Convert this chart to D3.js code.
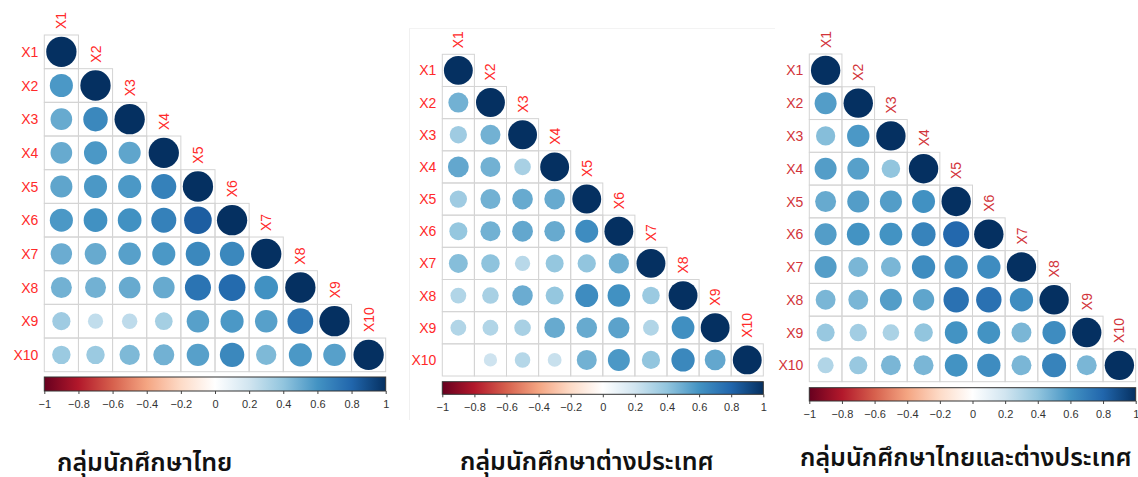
<!DOCTYPE html>
<html>
<head>
<meta charset="utf-8">
<script src="https://cdn.jsdelivr.net/npm/d3@7"></script>
<style>
  body { margin: 0; background: #fff; }
  svg { display: block; }
</style>
</head>
<body>
<script>
// variable names, rows and columns of every matrix
const labels = ["X1", "X2", "X3", "X4", "X5", "X6", "X7", "X8", "X9", "X10"];

// lower triangle of each correlation matrix
const thaiCorr = [
  [1],
  [0.58, 1],
  [0.51, 0.65, 1],
  [0.51, 0.58, 0.53, 1],
  [0.53, 0.58, 0.58, 0.68, 1],
  [0.58, 0.61, 0.61, 0.68, 0.83, 1],
  [0.50, 0.51, 0.55, 0.58, 0.65, 0.65, 1],
  [0.48, 0.48, 0.51, 0.51, 0.74, 0.78, 0.61, 1],
  [0.36, 0.25, 0.26, 0.34, 0.55, 0.58, 0.55, 0.72, 1],
  [0.37, 0.37, 0.45, 0.48, 0.55, 0.65, 0.45, 0.58, 0.55, 1]
];
const foreignCorr = [
  [1],
  [0.48, 1],
  [0.36, 0.48, 1],
  [0.52, 0.48, 0.33, 1],
  [0.36, 0.48, 0.51, 0.51, 1],
  [0.39, 0.48, 0.52, 0.51, 0.63, 1],
  [0.43, 0.41, 0.28, 0.39, 0.40, 0.49, 1],
  [0.30, 0.33, 0.50, 0.39, 0.63, 0.61, 0.37, 1],
  [0.30, 0.30, 0.33, 0.51, 0.51, 0.54, 0.30, 0.62, 1],
  [0.00, 0.21, 0.29, 0.23, 0.48, 0.58, 0.40, 0.65, 0.52, 1]
];
const allCorr = [
  [1],
  [0.56, 1],
  [0.43, 0.58, 1],
  [0.56, 0.55, 0.40, 1],
  [0.51, 0.56, 0.56, 0.61, 1],
  [0.56, 0.60, 0.60, 0.67, 0.79, 1],
  [0.56, 0.46, 0.46, 0.63, 0.63, 0.63, 1],
  [0.46, 0.46, 0.56, 0.53, 0.75, 0.75, 0.63, 1],
  [0.38, 0.35, 0.32, 0.40, 0.60, 0.60, 0.46, 0.63, 1],
  [0.30, 0.38, 0.46, 0.46, 0.60, 0.63, 0.46, 0.67, 0.46, 1]
];

const titles = ["กลุ่มนักศึกษาไทย", "กลุ่มนักศึกษาต่างประเทศ", "กลุ่มนักศึกษาไทยและต่างประเทศ"];
const legendTicks = [-1, -0.8, -0.6, -0.4, -0.2, 0, 0.2, 0.4, 0.6, 0.8, 1];

// corrplot's default palette
const paletteStops = ["#67001F", "#B2182B", "#D6604D", "#F4A582", "#FDDBC7", "#FFFFFF",
                      "#D1E5F0", "#92C5DE", "#4393C3", "#2166AC", "#053061"];

const width = 1138;
const height = 477;

const svg = d3.select('body')
  .append('svg')
  .attr('width', width)
  .attr('height', height);

const color = d3.scaleLinear()
  .domain(d3.range(paletteStops.length).map(i => -1 + i * 2 / (paletteStops.length - 1)))
  .range(paletteStops);

// gradient for the colour bars
const grad = svg.append('defs').append('linearGradient').attr('id', 'cbar');
d3.range(0, 1.0001, 0.05).forEach(t => {
  grad.append('stop').attr('offset', t).attr('stop-color', color(-1 + 2 * t));
});

// faint frame behind the middle panel
svg.append('line')
  .attr('x1', 409.5).attr('x2', 409.5).attr('y1', 28).attr('y2', 420)
  .attr('stroke', '#f0f0f0');
svg.append('line')
  .attr('x1', 409).attr('x2', 775).attr('y1', 28.5).attr('y2', 28.5)
  .attr('stroke', '#f3f3f3');

const panels = [
  { data: thaiCorr, x: 44.3, y: 35, w: 341.4, h: 336.7, barY: 377, barH: 14, title: titles[0], titleX: 57, titleY: 471, labelColor: '#ff2a2a' },
  { data: foreignCorr, x: 442.3, y: 54.3, w: 321, h: 321.7, barY: 381.7, barH: 12.6, title: titles[1], titleX: 460, titleY: 470, labelColor: '#ff2a2a' },
  { data: allCorr, x: 809.3, y: 54, w: 326.4, h: 327.7, barY: 387.7, barH: 13.3, title: titles[2], titleX: 800, titleY: 466, labelColor: '#d2343a' }
];

panels.forEach(drawPanel);

function drawPanel(p) {
  const g = svg.append('g');

  const x = d3.scaleBand().domain(labels).range([p.x, p.x + p.w]);
  const y = d3.scaleBand().domain(labels).range([p.y, p.y + p.h]);
  const cell = Math.min(x.bandwidth(), y.bandwidth());
  const radius = d3.scaleSqrt().domain([0, 1]).range([0, 0.45 * cell]);

  const cells = [];
  p.data.forEach((row, i) => {
    row.forEach((v, j) => cells.push({ row: labels[i], col: labels[j], v: v }));
  });

  g.selectAll('rect.cell')
    .data(cells)
    .enter()
    .append('rect')
    .attr('class', 'cell')
    .attr('x', d => x(d.col))
    .attr('y', d => y(d.row))
    .attr('width', x.bandwidth())
    .attr('height', y.bandwidth())
    .attr('fill', 'none')
    .attr('stroke', '#d4d4d4')
    .attr('stroke-width', 1);

  g.selectAll('circle')
    .data(cells)
    .enter()
    .append('circle')
    .attr('cx', d => x(d.col) + x.bandwidth() / 2)
    .attr('cy', d => y(d.row) + y.bandwidth() / 2)
    .attr('r', d => radius(Math.abs(d.v)))
    .attr('fill', d => color(d.v));

  // row labels
  g.selectAll('text.row')
    .data(labels)
    .enter()
    .append('text')
    .attr('class', 'row')
    .attr('x', p.x - 6)
    .attr('y', d => y(d) + y.bandwidth() / 2)
    .attr('dy', '0.36em')
    .attr('text-anchor', 'end')
    .attr('fill', p.labelColor)
    .style('font', '14px "Liberation Sans", Arial, sans-serif')
    .text(d => d);

  // column labels, sitting on top of the diagonal cell
  g.selectAll('text.col')
    .data(labels)
    .enter()
    .append('text')
    .attr('class', 'col')
    .attr('transform', d => `translate(${x(d) + x.bandwidth() / 2},${y(d) - 6}) rotate(-90)`)
    .attr('dy', '0.36em')
    .attr('text-anchor', 'start')
    .attr('fill', p.labelColor)
    .style('font', '14px "Liberation Sans", Arial, sans-serif')
    .text(d => d);

  // colour bar
  const bar = d3.scaleLinear().domain([-1, 1]).range([p.x, p.x + p.w]);
  g.append('rect')
    .attr('x', p.x)
    .attr('y', p.barY)
    .attr('width', p.w)
    .attr('height', p.barH)
    .attr('fill', 'url(#cbar)')
    .attr('stroke', '#333')
    .attr('stroke-width', 1);

  const axis = g.append('g')
    .attr('transform', `translate(0,${p.barY + p.barH})`)
    .call(d3.axisBottom(bar).tickValues(legendTicks).tickSize(3).tickFormat(d3.format('')));
  axis.select('.domain').remove();
  axis.selectAll('line').attr('stroke', '#444');
  axis.selectAll('text')
    .attr('fill', '#333')
    .attr('y', 9)
    .style('font', '11px "Liberation Sans", Arial, sans-serif');

  g.append('text')
    .attr('x', p.titleX)
    .attr('y', p.titleY)
    .attr('fill', '#111')
    .style('font', '600 25px "Noto Sans Thai", "Noto Sans", "DejaVu Sans", sans-serif')
    .text(p.title);
}
</script>
</body>
</html>
